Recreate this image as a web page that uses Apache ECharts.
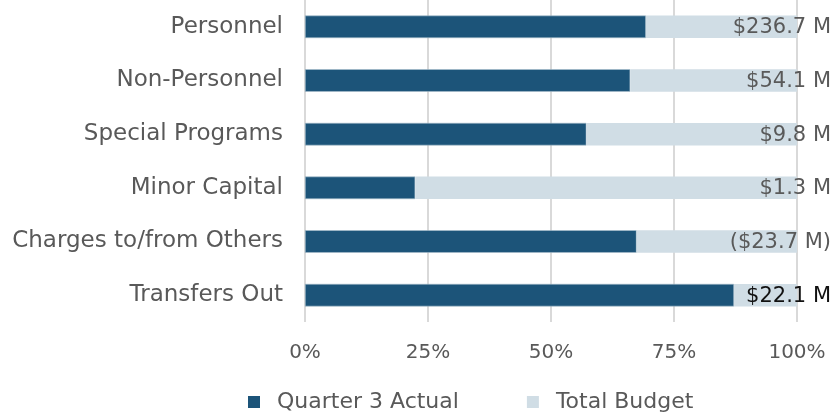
<!DOCTYPE html>
<html>
<head>
<meta charset="utf-8">
<script src="https://cdn.jsdelivr.net/npm/echarts@6/dist/echarts.min.js"></script>
<style>
  html, body { margin: 0; padding: 0; background: #fff; }
  #chart { width: 835px; height: 413px; }
</style>
</head>
<body>
<div id="chart"></div>
<script>
// categories top to bottom
var categories = ['Personnel', 'Non-Personnel', 'Special Programs', 'Minor Capital', 'Charges to/from Others', 'Transfers Out']
// share of total budget spent by quarter 3 (%)
var actualPct = [69.3, 66.1, 57.2, 22.4, 67.4, 87.2]
// remaining share to make up 100 %
var budgetPct = actualPct.map(function (v) { return +(100 - v).toFixed(1) })
var budgetLabels = ['$236.7 M', '$54.1 M', '$9.8 M', '$1.3 M', '($23.7 M)', '$22.1 M']
var labelColors = ['#595959', '#595959', '#595959', '#595959', '#595959', '#111111']
var xTicks = [0, 25, 50, 75, 100]

var font = 'DejaVu Sans'
var chart = echarts.init(document.getElementById('chart'))
chart.setOption({
  backgroundColor: '#ffffff',
  animation: false,
  textStyle: { fontFamily: font },
  grid: {
    left: 305,
    right: 38,
    top: 0,
    bottom: 91
  },
  legend: {
    top: 386,
    left: 243,
    itemWidth: 12,
    itemHeight: 12,
    itemGap: 68,
    icon: 'rect',
    itemStyle: { borderWidth: 0 },
    textStyle: { fontSize: 22, color: '#595959', fontFamily: font, padding: [0, 0, 0, 12] },
    data: ['Quarter 3 Actual', 'Total Budget']
  },
  xAxis: {
    type: 'value',
    min: xTicks[0],
    max: xTicks[xTicks.length - 1],
    interval: 25,
    axisLine: { show: false },
    axisTick: { show: false },
    splitLine: { lineStyle: { color: '#d9d9d9', width: 2 } },
    axisLabel: {
      margin: 21,
      fontSize: 20,
      color: '#595959',
      formatter: '{value}%'
    }
  },
  yAxis: {
    type: 'category',
    inverse: true,
    data: categories,
    axisLine: { show: false },
    axisTick: { show: false },
    axisLabel: { fontSize: 23, color: '#595959', margin: 22 }
  },
  series: [{
    name: 'Quarter 3 Actual',
    type: 'bar',
    stack: 'total',
    barWidth: '42%',
    itemStyle: { color: '#1c5479', borderColor: '#a9bfcc', borderWidth: 0.6 },
    data: actualPct
  }, {
    name: 'Total Budget',
    type: 'bar',
    stack: 'total',
    itemStyle: { color: '#d0dde5' },
    label: {
      show: true,
      position: 'insideRight',
      offset: [39, 1],
      fontSize: 21,
      fontFamily: font,
      formatter: function (p) { return budgetLabels[p.dataIndex] }
    },
    data: budgetPct.map(function (v, i) {
      return { value: v, label: { color: labelColors[i] } }
    })
  }]
})
</script>
</body>
</html>
